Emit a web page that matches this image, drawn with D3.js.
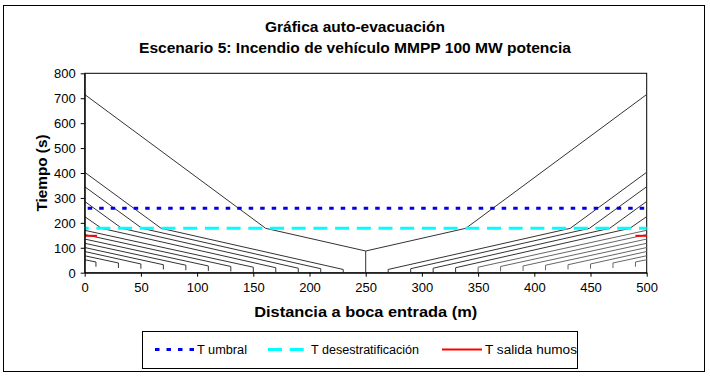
<!DOCTYPE html>
<html><head><meta charset="utf-8">
<script src="https://cdn.jsdelivr.net/npm/d3@7"></script>
<style>body{margin:0;background:#fff}svg{display:block;font-family:"Liberation Sans",Arial,sans-serif}</style>
</head><body><svg id="c" width="710" height="378"></svg>
<script>
// ---- data ----
const titleLines = ["Gráfica auto-evacuación", "Escenario 5: Incendio de vehículo MMPP 100 MW potencia"];
const xTicks = [0, 50, 100, 150, 200, 250, 300, 350, 400, 450, 500];
const yTicks = [0, 100, 200, 300, 400, 500, 600, 700, 800];
// left half: users walking to x = 0
const posLeft    = [10, 30, 50, 70, 90, 110, 130, 150, 170, 190, 210, 230];
const detectLeft = [24, 19, 16, 13, 10, 7, 5, 2, 0, 0, 0, 0];
const startLeft  = [43, 39, 35, 32, 30, 27, 25, 22, 20, 18, 16, 13];
const breakLeft  = [null, null, null, null, null, null, null, null, 15, 33, 51, 68];
const exitLeft   = [52, 68, 85, 101, 118, 135, 153, 170, 225, 286, 345, 403];
// right half: users walking to x = 500
const posRight    = [490, 470, 450, 430, 410, 390, 370, 350, 330, 310, 290, 270];
const detectRight = [24, 19, 16, 13, 10, 7, 5, 2, 0, 0, 0, 0];
const startRight  = [43, 39, 35, 32, 30, 27, 25, 22, 20, 18, 16, 13];
const breakRight  = [null, null, null, null, null, null, null, null, 485, 467, 449, 432];
const exitRight   = [52, 68, 85, 101, 118, 135, 153, 170, 225, 286, 345, 403];
// fire position (centre)
const centrePos = 250, centreStart = 87, centreBreakL = 161, centreBreakR = 339, centreExit = 715;
// reference levels
const tUmbral = 259, tDesestrat = 178, tSalidaHumos = 148;
const salidaHumosX = [[0, 11], [490, 500]];
const legendItems = ["T umbral", "T desestratificación", "T salida humos"];

// ---- drawing ----
const svg = d3.select("#c");
const L = 84.7, R = 646.7, T = 73.3, B = 272.7;
const x = d3.scaleLinear().domain([0, 500]).range([L, R]);
const y = d3.scaleLinear().domain([0, 800]).range([B, T]);

svg.append("rect").attr("x", 3.5).attr("y", 5.5).attr("width", 701).attr("height", 366)
  .attr("fill", "#fff").attr("stroke", "#000").attr("stroke-width", 1);

const titleW = [180, 432];
svg.selectAll("text.title").data(titleLines).join("text")
  .attr("x", 355).attr("y", (d, i) => 32 + i * 21).attr("text-anchor", "middle")
  .attr("font-size", 15).attr("font-weight", "bold")
  .attr("textLength", (d, i) => titleW[i]).attr("lengthAdjust", "spacingAndGlyphs").text(d => d);

// plot frame
svg.append("rect").attr("x", L).attr("y", T).attr("width", R - L).attr("height", B - T)
  .attr("fill", "none").attr("stroke", "#000").attr("stroke-width", 1);

const line = d3.line().x(d => x(d[0])).y(d => y(d[1]));
const g = svg.append("g").attr("fill", "none").attr("stroke-linejoin", "round");

function pathFor(pos, det, st, br, ex, exitX) {
  const pts = [[pos, det], [pos, st]];
  if (br !== null) pts.push([br, tDesestrat]);
  pts.push([exitX, ex]);
  return pts;
}
posLeft.forEach((p, i) => {
  g.append("path").attr("d", line(pathFor(p, detectLeft[i], startLeft[i], breakLeft[i], exitLeft[i], 0)))
    .attr("stroke", "#333").attr("stroke-width", 1);
});
posRight.forEach((p, i) => {
  g.append("path").attr("d", line(pathFor(p, detectRight[i], startRight[i], breakRight[i], exitRight[i], 500)))
    .attr("stroke", i < 8 ? "#666" : "#333").attr("stroke-width", 1);
});
g.append("path").attr("d", line([[centrePos, 0], [centrePos, centreStart], [centreBreakL, tDesestrat], [0, centreExit]]))
  .attr("stroke", "#333").attr("stroke-width", 1);
g.append("path").attr("d", line([[centrePos, centreStart], [centreBreakR, tDesestrat], [500, centreExit]]))
  .attr("stroke", "#333").attr("stroke-width", 1);

// reference lines
const styles = [
  {color: "#0000ee", dash: "4.5,7", w: 3},
  {color: "#00ffff", dash: "14,7.7", w: 3},
  {color: "#ff0000", dash: null, w: 2}
];
g.append("path").attr("d", line([[0, tUmbral], [500, tUmbral]]))
  .attr("stroke", styles[0].color).attr("stroke-width", 3).attr("stroke-dasharray", styles[0].dash).attr("stroke-dashoffset", -3);
g.append("path").attr("d", line([[0, tDesestrat], [500, tDesestrat]]))
  .attr("stroke", styles[1].color).attr("stroke-width", 3).attr("stroke-dasharray", styles[1].dash).attr("stroke-dashoffset", 10);
salidaHumosX.forEach(s => {
  g.append("path").attr("d", line([[s[0], tSalidaHumos], [s[1], tSalidaHumos]]))
    .attr("stroke", styles[2].color).attr("stroke-width", 2);
});

// axes
const ax = svg.append("g").attr("transform", `translate(0,${B})`)
  .call(d3.axisBottom(x).tickValues(xTicks).tickSize(4).tickSizeOuter(0));
const ay = svg.append("g").attr("transform", `translate(${L},0)`)
  .call(d3.axisLeft(y).tickValues(yTicks).tickSize(4).tickSizeOuter(0));
[ax, ay].forEach(a => {
  a.select(".domain").attr("stroke", "#000");
  a.selectAll("line").attr("stroke", "#000");
  a.selectAll("text").attr("font-size", 13).attr("fill", "#000").attr("font-family", "Liberation Sans, Arial, sans-serif");
});
ax.selectAll("text").attr("dy", "0.95em");
ay.selectAll("text").attr("dx", "-2").attr("dy", "0.35em");

svg.append("text").attr("x", (L + R) / 2).attr("y", 317).attr("text-anchor", "middle")
  .attr("font-size", 15).attr("font-weight", "bold")
  .attr("textLength", 223).attr("lengthAdjust", "spacingAndGlyphs").text("Distancia a boca entrada (m)");
svg.append("text").attr("transform", `translate(47,${(T + B) / 2}) rotate(-90)`).attr("text-anchor", "middle")
  .attr("font-size", 15).attr("font-weight", "bold")
  .attr("textLength", 77).attr("lengthAdjust", "spacingAndGlyphs").text("Tiempo (s)");

// legend
svg.append("rect").attr("x", 142.5).attr("y", 331.5).attr("width", 435).attr("height", 37)
  .attr("fill", "#fff").attr("stroke", "#000").attr("stroke-width", 1);
const legX = [[155, 195, 197], [268, 304, 311], [442, 482, 485]];
const legW = [50, 108, 92];
legendItems.forEach((t, i) => {
  const ly = 349.5;
  svg.append("line").attr("x1", legX[i][0]).attr("x2", legX[i][1]).attr("y1", ly).attr("y2", ly)
    .attr("stroke", styles[i].color).attr("stroke-width", styles[i].w)
    .attr("stroke-dasharray", styles[i].dash);
  svg.append("text").attr("x", legX[i][2]).attr("y", ly + 4.5).attr("font-size", 12.5)
    .attr("textLength", legW[i]).attr("lengthAdjust", "spacingAndGlyphs").text(t);
});
</script></body></html>
